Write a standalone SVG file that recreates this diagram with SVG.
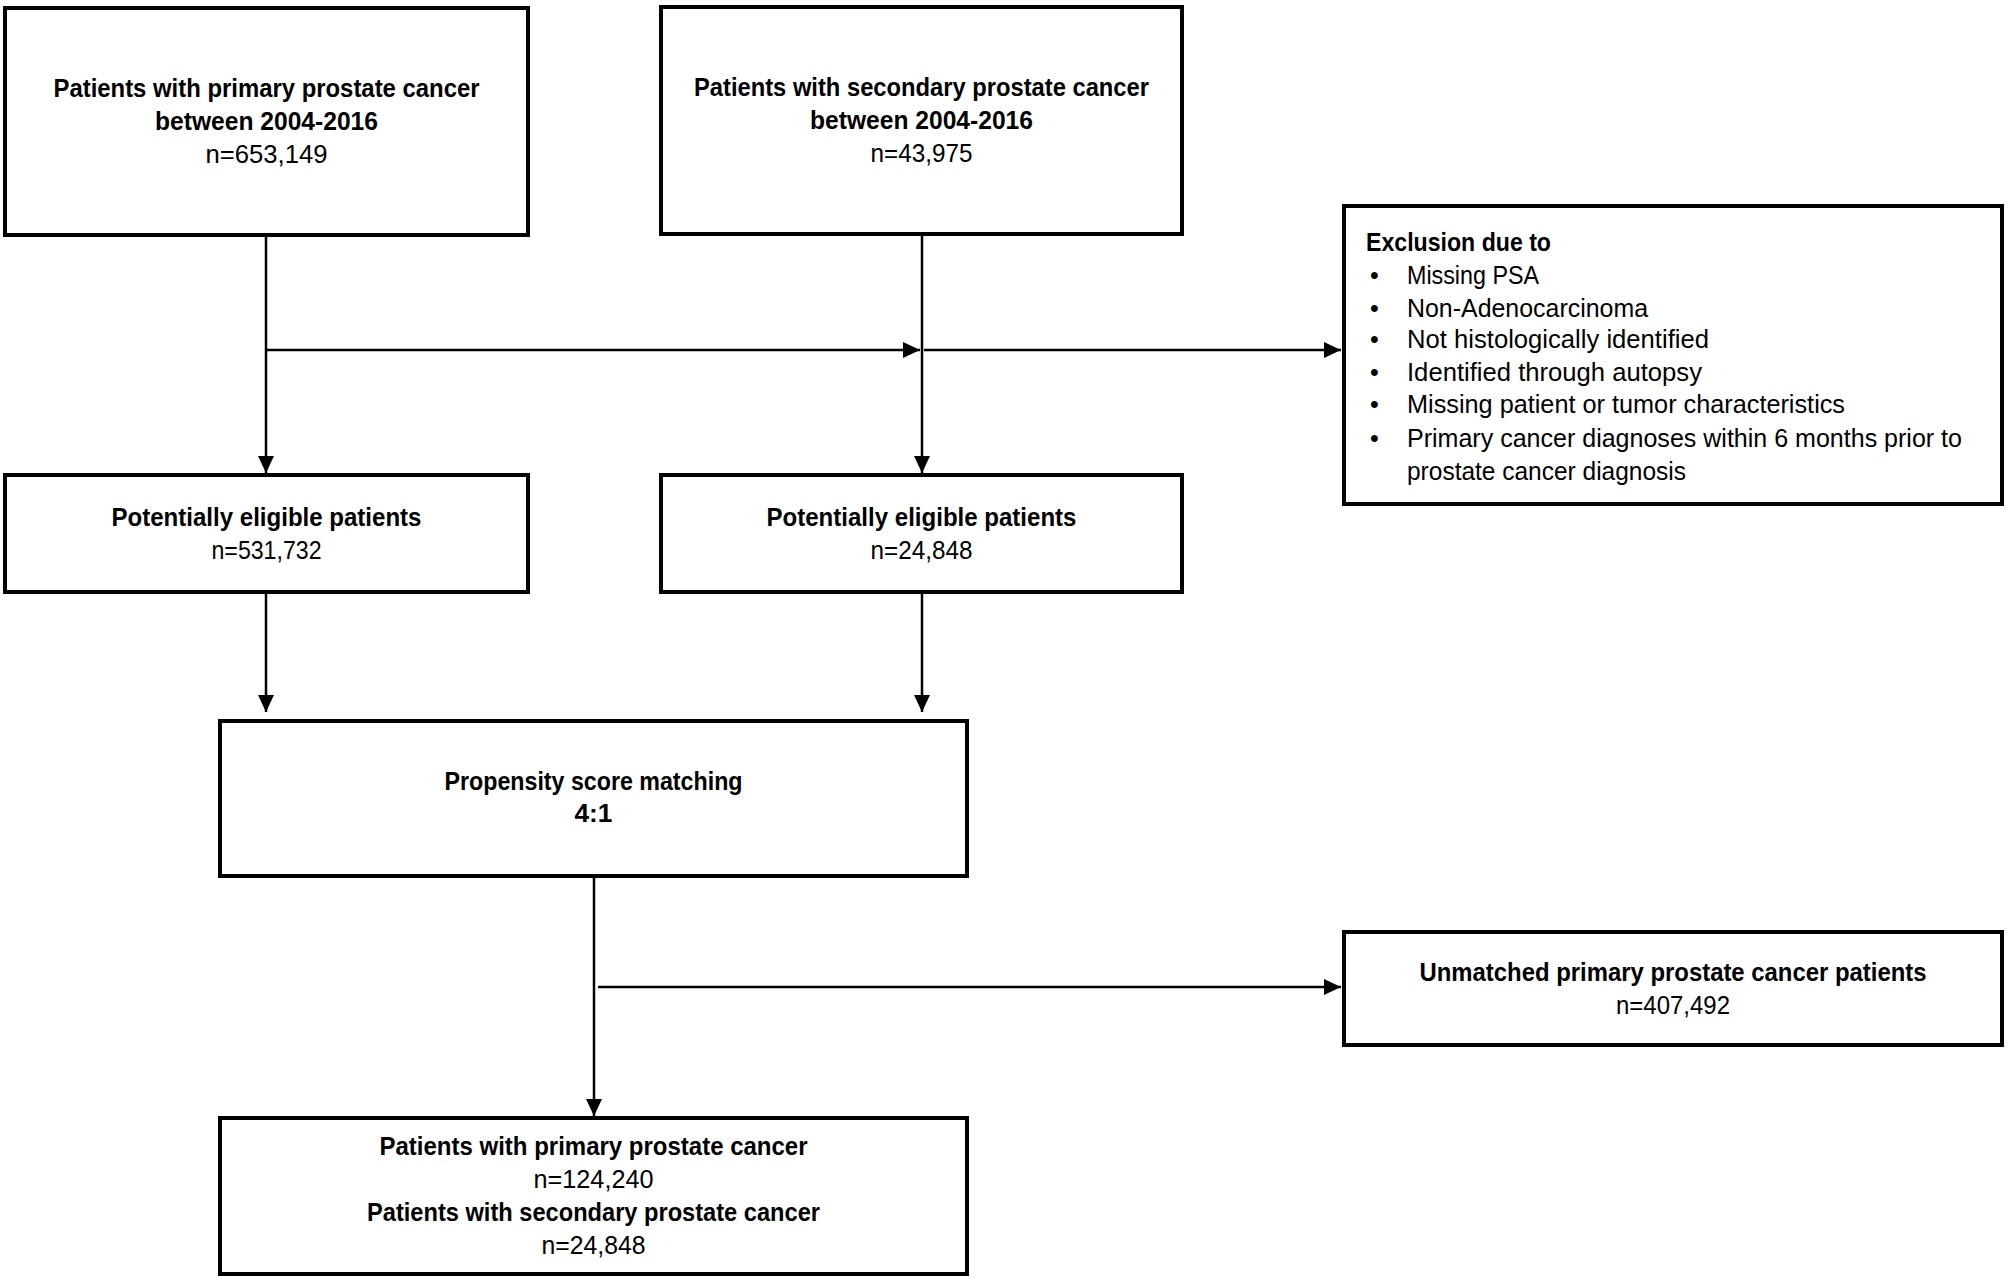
<svg xmlns="http://www.w3.org/2000/svg" width="2008" height="1279" viewBox="0 0 2008 1279">
<style>
.box{fill:#fff;stroke:#000;stroke-width:4}
.c{fill:none;stroke:#000;stroke-width:2.5}
text{font-family:"Liberation Sans",Arial,sans-serif;font-size:25px;fill:#000}
.b{font-weight:bold}
.m{text-anchor:middle}
</style>
<defs>
<marker id="ah" markerUnits="userSpaceOnUse" markerWidth="18" markerHeight="16" refX="17" refY="8" orient="auto">
<path d="M0,0 L17,8 L0,16 Z" fill="#000"/>
</marker>
</defs>
<rect width="2008" height="1279" fill="#fff"/>
<g id="connectors">
<line class="c" x1="266" y1="235" x2="266" y2="473" marker-end="url(#ah)"/>
<line class="c" x1="922" y1="234" x2="922" y2="473" marker-end="url(#ah)"/>
<line class="c" x1="266" y1="350" x2="920" y2="350" marker-end="url(#ah)"/>
<line class="c" x1="924" y1="350" x2="1341" y2="350" marker-end="url(#ah)"/>
<line class="c" x1="266" y1="592" x2="266" y2="712" marker-end="url(#ah)"/>
<line class="c" x1="922" y1="592" x2="922" y2="712" marker-end="url(#ah)"/>
<line class="c" x1="594" y1="876" x2="594" y2="1116" marker-end="url(#ah)"/>
<line class="c" x1="598" y1="987" x2="1341" y2="987" marker-end="url(#ah)"/>
</g>
<g id="n1">
<rect class="box" x="5" y="8" width="523" height="227"/>
<text class="b m" x="266.5" y="97" textLength="426" lengthAdjust="spacingAndGlyphs">Patients with primary prostate cancer</text>
<text class="b m" x="266.5" y="130" textLength="223" lengthAdjust="spacingAndGlyphs">between 2004-2016</text>
<text class="m" x="266.5" y="163" textLength="122" lengthAdjust="spacingAndGlyphs">n=653,149</text>
</g>
<g id="n2">
<rect class="box" x="661" y="7" width="521" height="227"/>
<text class="b m" x="921.5" y="96" textLength="455" lengthAdjust="spacingAndGlyphs">Patients with secondary prostate cancer</text>
<text class="b m" x="921.5" y="129" textLength="223" lengthAdjust="spacingAndGlyphs">between 2004-2016</text>
<text class="m" x="921.5" y="162" textLength="102" lengthAdjust="spacingAndGlyphs">n=43,975</text>
</g>
<g id="n3">
<rect class="box" x="1344" y="206" width="658" height="298"/>
<text class="b" x="1366" y="251" textLength="185" lengthAdjust="spacingAndGlyphs">Exclusion due to</text>
<g>
<text x="1370" y="284">•</text><text x="1407" y="284" textLength="132" lengthAdjust="spacingAndGlyphs">Missing PSA</text>
<text x="1370" y="317">•</text><text x="1407" y="317" textLength="241" lengthAdjust="spacingAndGlyphs">Non-Adenocarcinoma</text>
<text x="1370" y="348">•</text><text x="1407" y="348" textLength="302" lengthAdjust="spacingAndGlyphs">Not histologically identified</text>
<text x="1370" y="381">•</text><text x="1407" y="381" textLength="295" lengthAdjust="spacingAndGlyphs">Identified through autopsy</text>
<text x="1370" y="413">•</text><text x="1407" y="413" textLength="438" lengthAdjust="spacingAndGlyphs">Missing patient or tumor characteristics</text>
<text x="1370" y="447">•</text><text x="1407" y="447" textLength="555" lengthAdjust="spacingAndGlyphs">Primary cancer diagnoses within 6 months prior to</text>
<text x="1407" y="480" textLength="279" lengthAdjust="spacingAndGlyphs">prostate cancer diagnosis</text>
</g>
</g>
<g id="n4">
<rect class="box" x="5" y="475" width="523" height="117"/>
<text class="b m" x="266.5" y="526" textLength="310" lengthAdjust="spacingAndGlyphs">Potentially eligible patients</text>
<text class="m" x="266.5" y="559" textLength="110" lengthAdjust="spacingAndGlyphs">n=531,732</text>
</g>
<g id="n5">
<rect class="box" x="661" y="475" width="521" height="117"/>
<text class="b m" x="921.5" y="526" textLength="310" lengthAdjust="spacingAndGlyphs">Potentially eligible patients</text>
<text class="m" x="921.5" y="559" textLength="102" lengthAdjust="spacingAndGlyphs">n=24,848</text>
</g>
<g id="n6">
<rect class="box" x="220" y="721" width="747" height="155"/>
<text class="b m" x="593.5" y="790" textLength="298" lengthAdjust="spacingAndGlyphs">Propensity score matching</text>
<text class="b m" x="593.5" y="822" textLength="38" lengthAdjust="spacingAndGlyphs">4:1</text>
</g>
<g id="n7">
<rect class="box" x="1344" y="932" width="658" height="113"/>
<text class="b m" x="1673" y="981" textLength="507" lengthAdjust="spacingAndGlyphs">Unmatched primary prostate cancer patients</text>
<text class="m" x="1673" y="1014" textLength="114" lengthAdjust="spacingAndGlyphs">n=407,492</text>
</g>
<g id="n8">
<rect class="box" x="220" y="1118" width="747" height="156"/>
<text class="b m" x="593.5" y="1155" textLength="428" lengthAdjust="spacingAndGlyphs">Patients with primary prostate cancer</text>
<text class="m" x="593.5" y="1188" textLength="120" lengthAdjust="spacingAndGlyphs">n=124,240</text>
<text class="b m" x="593.5" y="1221" textLength="453" lengthAdjust="spacingAndGlyphs">Patients with secondary prostate cancer</text>
<text class="m" x="593.5" y="1254" textLength="104" lengthAdjust="spacingAndGlyphs">n=24,848</text>
</g>
</svg>
